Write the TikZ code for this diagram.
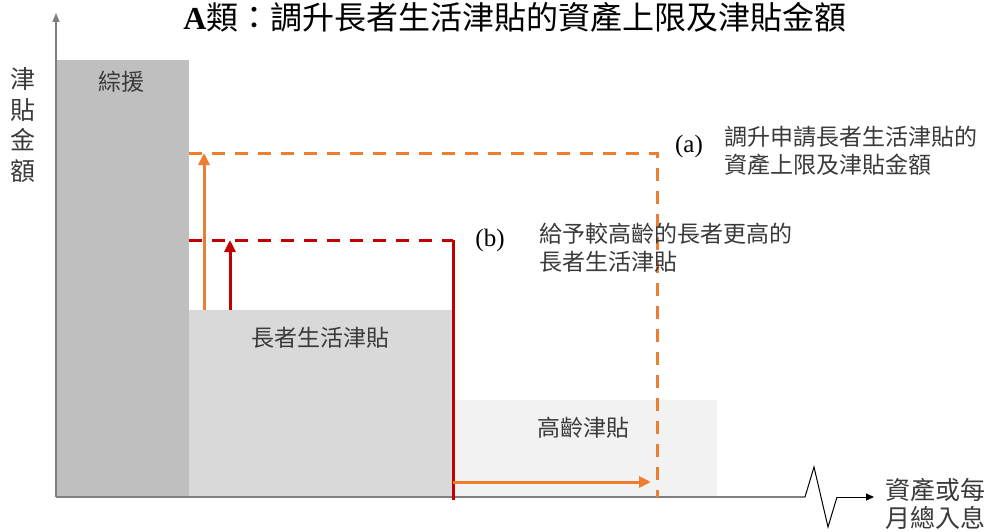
\documentclass[tikz,border=0pt]{standalone}
\usepackage{fontspec}
\setmainfont{Liberation Serif}
\newfontfamily\cjk{Noto Sans CJK TC}
\usetikzlibrary{arrows.meta}
\definecolor{cssacol}{HTML}{BFBFBF}
\definecolor{oascol}{HTML}{D9D9D9}
\definecolor{olacol}{HTML}{F2F2F2}
\definecolor{orng}{HTML}{ED7D31}
\definecolor{dred}{HTML}{C00000}
\definecolor{txt}{HTML}{3A3A3A}
\definecolor{axiscol}{HTML}{7F7F7F}
\tikzset{
  lbl/.style={font=\cjk\fontsize{23}{28}\selectfont, text=txt, inner sep=0pt},
  tag/.style={font=\fontsize{25}{28}\selectfont, text=black, inner sep=0pt},
  dashline/.style={line width=3pt, dash pattern=on 13pt off 10pt},
  uparrow/.style={line width=3pt, -{Triangle[length=12pt,width=11pt]}},
  axisline/.style={draw=axiscol, line width=1.5pt}
}
\begin{document}
\begin{tikzpicture}[x=1pt,y=-1pt]
\useasboundingbox (0,0) rectangle (992,532);
% bars
\fill[cssacol] (57,60) rectangle (189,497);
\fill[oascol] (189,310) rectangle (453,497);
\fill[olacol] (453,400) rectangle (717,497);
\node[lbl] (cssa) at (121,82) {綜援};
\node[lbl] (oas) at (320,338) {長者生活津貼};
\node[lbl] (ola) at (583,428) {高齡津貼};
% coordinates
\coordinate (oaTop) at (189,153);
\coordinate (oaCorner) at (657,153);
\coordinate (oaBot) at (657,497);
\coordinate (rdTop) at (189,240);
\coordinate (rdCorner) at (453,240);
\coordinate (rdBot) at (453,500);
\coordinate (oArrS) at (204,310);
\coordinate (oArrE) at (204,153);
\coordinate (rArrS) at (230,310);
\coordinate (rArrE) at (230,240);
\coordinate (hArrS) at (453,482);
\coordinate (hArrE) at (651,482);
% axes
\coordinate (orig) at (56,497);
\coordinate (ytip) at (56,13);
\coordinate (xz0) at (805,497);
\coordinate (xz1) at (814,467);
\coordinate (xz2) at (828,527);
\coordinate (xz3) at (837,497);
\coordinate (xtip) at (874,497);
\draw[axisline, -{Triangle[length=9pt,width=7pt]}] (orig) -- (ytip);
\draw[axisline] (orig) -- (xz0);
\draw[black, line width=1pt, line join=miter] (xz0) -- (xz1) -- (xz2) -- (xz3);
\draw[black, line width=1pt, -{Triangle[length=8pt,width=7pt]}] (xz3) -- (xtip);
% orange dashed
\draw[orng, dashline] (oaTop) -- (oaCorner) -- (oaBot);
% red
\draw[dred, dashline] (rdTop) -- (rdCorner);
\draw[dred, line width=3pt] (rdCorner) -- (rdBot);
% arrows
\draw[orng, uparrow] (oArrS) -- (oArrE);
\draw[dred, uparrow] (rArrS) -- (rArrE);
\draw[orng, uparrow] (hArrS) -- (hArrE);
% labels
\node[tag] (ta) at (689,146) {(a)};
\node[lbl, anchor=west, align=left] (tadesc) at (724,151) {調升申請長者生活津貼的\\資產上限及津貼金額};
\node[tag] (tb) at (490,240) {(b)};
\node[lbl, anchor=west, align=left] (tbdesc) at (539,248) {給予較高齡的長者更高的\\長者生活津貼};
\node[font=\cjk\fontsize{25}{30.5}\selectfont, text=txt, inner sep=0pt, align=center] (ylab) at (23,125) {津\\貼\\金\\額};
\node[font=\cjk\fontsize{25}{28}\selectfont, text=txt, inner sep=0pt, align=left, anchor=west] (xlab) at (885,504) {資產或每\\月總入息};
\node[font=\fontsize{32}{32}\selectfont, inner sep=0pt] (title) at (515,17) {\textbf{A}{\cjk 類：調升長者生活津貼的資產上限及津貼金額}};
\end{tikzpicture}
\end{document}
